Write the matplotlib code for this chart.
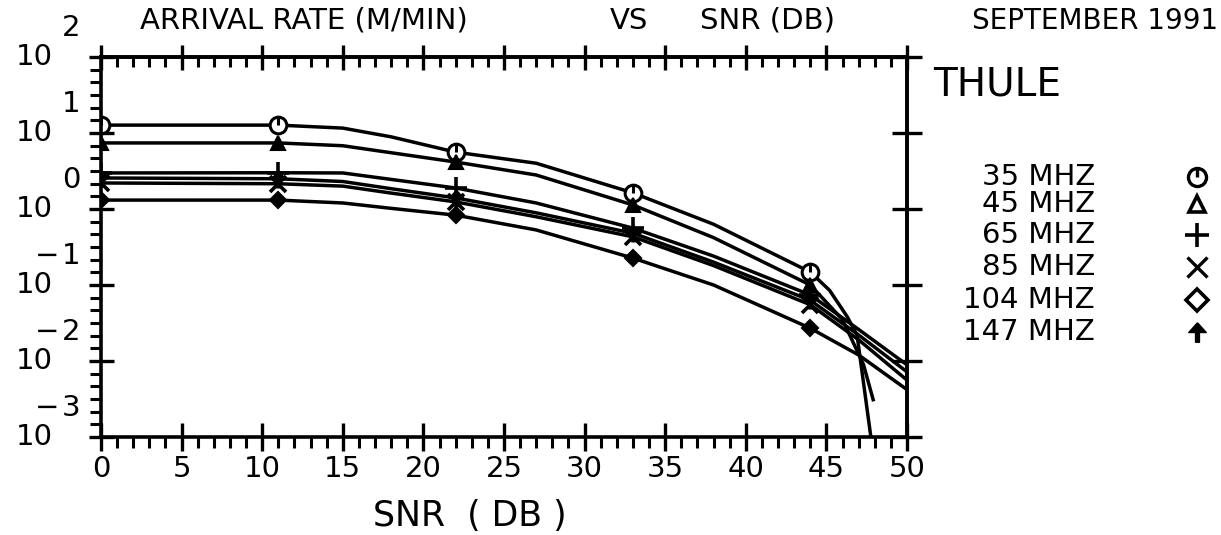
import numpy as np
import matplotlib
matplotlib.use("Agg")
import matplotlib.pyplot as plt
import matplotlib.transforms as mtrans
from matplotlib.path import Path
from matplotlib.ticker import MultipleLocator, LogLocator, FixedLocator, NullLocator, NullFormatter

# SNR (dB) where each curve was sampled
snr_main = [0, 11, 15, 18, 22, 27, 33, 38, 44, 47, 50]
snr_35 = [0, 11, 15, 18, 22, 27, 33, 38, 44, 45.2, 46.3, 46.9, 47.9]
snr_45 = [0, 11, 15, 18, 22, 27, 33, 38, 44, 46, 47.3, 47.9]

# arrival rate (per minute)
rate_35 = [12.7, 12.7, 11.6, 8.9, 5.6, 4.0, 1.63, 0.63, 0.148, 0.085, 0.038, 0.022, 0.0006]
rate_45 = [7.4, 7.4, 6.8, 5.5, 4.15, 2.8, 1.13, 0.42, 0.10, 0.035, 0.009, 0.0031]
rate_65 = [2.98, 3.0, 2.98, 2.45, 1.89, 1.2, 0.56, 0.24, 0.074, 0.026, 0.0089]
rate_85 = [2.2, 2.15, 2.0, 1.62, 1.24, 0.79, 0.43, 0.18, 0.055, 0.019, 0.0056]
rate_104 = [1.31, 1.31, 1.2, 1.02, 0.83, 0.53, 0.226, 0.10, 0.027, 0.012, 0.0042]
rate_147 = [2.56, 2.5, 2.3, 1.85, 1.4, 0.89, 0.48, 0.20, 0.063, 0.022, 0.0072]

freq_labels = ["35 MHZ", "45 MHZ", "65 MHZ", "85 MHZ", "104 MHZ", "147 MHZ"]
decades = [2, 1, 0, -1, -2, -3]

W, H = 1221, 535
FONT = "DejaVu Sans"

# plotter style markers
circ_line = Path.make_compound_path(Path.unit_circle(), Path([(0, 0), (0, 1)]))
arrow = [(0, 1), (-0.9, 0), (-0.2, 0), (-0.2, -1), (0.2, -1), (0.2, 0), (0.9, 0), (0, 1)]
styles = [
    dict(marker=circ_line, ms=12, mfc="white", mew=2.2),
    dict(marker="^", ms=10, mfc="black", mew=1.5),
    dict(marker="+", ms=16, mew=2.6),
    dict(marker="x", ms=12, mew=2.6),
    dict(marker="D", ms=8, mfc="black", mew=1.5),
    dict(marker=arrow, ms=12, mfc="black", mew=1.0),
]
legend_styles = [
    dict(marker=circ_line, ms=13, mfc="none", mew=2.4),
    dict(marker="^", ms=12, mfc="none", mew=2.6),
    dict(marker="+", ms=17, mew=2.6),
    dict(marker="x", ms=14, mew=2.4),
    dict(marker="D", ms=11, mfc="none", mew=2.6),
    dict(marker=arrow, ms=14, mfc="black", mew=1.0),
]

fig = plt.figure(figsize=(W / 100, H / 100), dpi=100)
ax = fig.add_axes([101 / W, 1 - 437 / H, 806 / W, 380 / H])
ax.set_yscale("log")
ax.set_xlim(0, 50)
ax.set_ylim(1e-3, 1e2)

series = [(snr_35, rate_35), (snr_45, rate_45), (snr_main, rate_65),
          (snr_main, rate_85), (snr_main, rate_104), (snr_main, rate_147)]
for (xs, ys), st in zip(series, styles):
    ax.plot(xs, ys, color="black", lw=2.5, mec="black", markevery=[0, 1, 4, 6, 8],
            solid_joinstyle="round", **st)

for sp in ax.spines.values():
    sp.set_linewidth(2.6)

# bottom / left ticks
ax.xaxis.set_major_locator(MultipleLocator(5))
ax.xaxis.set_minor_locator(MultipleLocator(1))
ax.tick_params(axis="x", which="major", direction="inout", length=20, width=2.4,
               labelsize=21, pad=3)
ax.tick_params(axis="x", which="minor", direction="out", length=8, width=2.2)
ax.yaxis.set_major_locator(LogLocator(base=10, numticks=10))
minor_y = [10.0 ** (d + k / 6) for d in range(-3, 2) for k in range(1, 6)]
ax.yaxis.set_minor_locator(FixedLocator(minor_y))
ax.yaxis.set_minor_formatter(NullFormatter())
ax.set_yticklabels([])
ax.tick_params(axis="y", which="major", direction="inout", length=18, width=2.4)
ax.tick_params(axis="y", which="minor", direction="out", length=8, width=2.2)
for lab in ax.get_xticklabels():
    lab.set_fontfamily(FONT)

# top / right ticks
top = ax.secondary_xaxis("top")
top.xaxis.set_major_locator(MultipleLocator(5))
top.xaxis.set_minor_locator(MultipleLocator(1))
top.tick_params(which="major", direction="inout", length=18, width=2.4, labeltop=False)
top.tick_params(which="minor", direction="in", length=7, width=2.2)
top.spines["top"].set_linewidth(2.6)
right = ax.secondary_yaxis("right")
right.yaxis.set_major_locator(LogLocator(base=10, numticks=10))
right.yaxis.set_minor_locator(NullLocator())
right.tick_params(which="major", direction="inout", length=22, width=2.4, labelright=False)
right.spines["right"].set_linewidth(2.6)

# y tick labels: "10" with raised exponent
blend = mtrans.blended_transform_factory(fig.transFigure, ax.transData)
up = mtrans.ScaledTranslation(0, 29 / 100, fig.dpi_scale_trans)
for d in decades:
    ax.text(34 / W, 10.0 ** d, "10", transform=blend, ha="center", va="center",
            fontsize=21, family=FONT, clip_on=False)
    ax.text(71 / W, 10.0 ** d, str(abs(d)), transform=blend + up, ha="center",
            va="center", fontsize=21, family=FONT, clip_on=False)
    if d < 0:
        ax.text(47 / W, 10.0 ** d, "\u2212", transform=blend + up, ha="center",
                va="center", fontsize=21, family=FONT, clip_on=False)


def px(x, y):
    return x / W, 1 - y / H


fig.text(*px(470, 516), "SNR  ( DB )", fontsize=25, family=FONT, va="center", ha="center")
fig.text(*px(140, 21), "ARRIVAL RATE (M/MIN)", fontsize=21, family=FONT, va="center", ha="left")
fig.text(*px(629, 21), "VS", fontsize=21, family=FONT, va="center", ha="center")
fig.text(*px(768, 21), "SNR (DB)", fontsize=21, family=FONT, va="center", ha="center")
fig.text(*px(1218, 21), "SEPTEMBER 1991", fontsize=20, family=FONT, va="center", ha="right")
fig.text(*px(933, 84), "THULE", fontsize=28, family=FONT, va="center", ha="left")

rows = [177, 204, 235, 267, 300, 332]
for lab, yy, st in zip(freq_labels, rows, legend_styles):
    fig.text(*px(1095, yy), lab, fontsize=21, family=FONT, va="center", ha="right")
    ax.plot([1197 / W], [1 - yy / H], transform=fig.transFigure, clip_on=False,
            color="black", mec="black", ls="none", **st)

fig.savefig("out.png", dpi=100)
